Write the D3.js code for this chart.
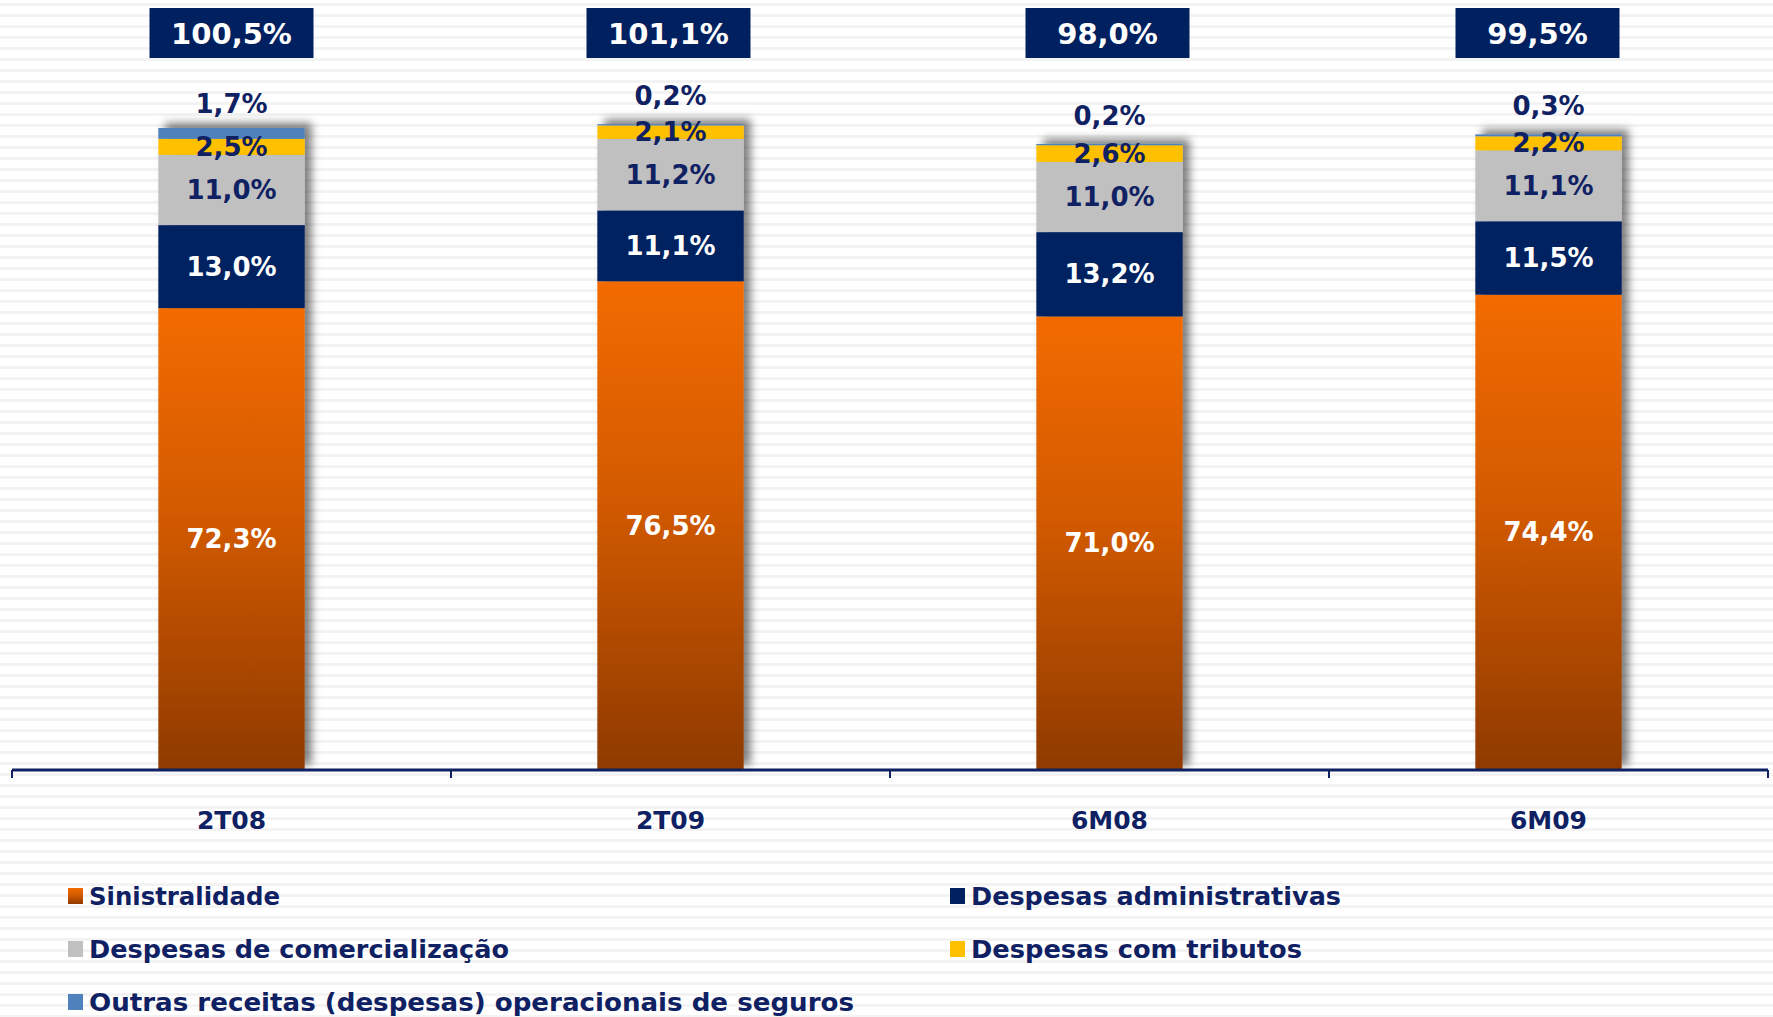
<!DOCTYPE html>
<meta charset="utf-8">
<style>
body { margin: 0; background: #fff; }
svg { display: block; font-family: "DejaVu Sans", Verdana, sans-serif; font-weight: bold; }
.seg-label { font-size: 26px; text-anchor: middle; }
.total-label { font-size: 29px; fill: #fff; text-anchor: middle; }
.cat-label { font-size: 25px; fill: #0f2163; text-anchor: middle; }
.legend text { font-size: 24px; fill: #0f2163; }
</style>
<svg width="1773" height="1017"></svg>
<script src="https://d3js.org/d3.v7.min.js"></script>
<script>

var categories = ["2T08", "2T09", "6M08", "6M09"];
var totals = ["100,5%", "101,1%", "98,0%", "99,5%"];

var series = ["Sinistralidade", "Despesas administrativas", "Despesas de comercialização",
  "Despesas com tributos", "Outras receitas (despesas) operacionais de seguros"];
var sinistralidade = [72.3, 76.5, 71.0, 74.4];
var administrativas = [13.0, 11.1, 13.2, 11.5];
var comercializacao = [11.0, 11.2, 11.0, 11.1];
var tributos = [2.5, 2.1, 2.6, 2.2];
var outras = [1.7, 0.2, 0.2, 0.3];

var values = [sinistralidade, administrativas, comercializacao, tributos, outras];
var colors = ["url(#orangeGrad)", "#002060", "#c0c0c0", "#ffc000", "#4f81bd"];
var labelColors = ["#fff", "#fff", "#0f2163", "#0f2163", "#0f2163"];

var svg = d3.select("svg");
var width = +svg.attr("width");
var height = +svg.attr("height");

var defs = svg.append("defs");

// striped background
var pat = defs.append("pattern")
  .attr("id", "stripes")
  .attr("patternUnits", "userSpaceOnUse")
  .attr("width", 20).attr("height", 11);
pat.append("rect").attr("width", 20).attr("height", 11).attr("fill", "#fff");
pat.append("rect").attr("y", 3).attr("width", 20).attr("height", 3).attr("fill", "#f3f3f3");

var grad = defs.append("linearGradient")
  .attr("id", "orangeGrad")
  .attr("x1", 0).attr("y1", 0).attr("x2", 0).attr("y2", 1);
grad.append("stop").attr("offset", "0%").attr("stop-color", "#f26b00");
grad.append("stop").attr("offset", "45%").attr("stop-color", "#d25a00");
grad.append("stop").attr("offset", "100%").attr("stop-color", "#8f3a00");

var shadow = defs.append("filter")
  .attr("id", "shadow")
  .attr("x", "-20%").attr("y", "-20%").attr("width", "140%").attr("height", "140%");
shadow.append("feDropShadow")
  .attr("dx", 7).attr("dy", -5)
  .attr("stdDeviation", 4)
  .attr("flood-color", "#000")
  .attr("flood-opacity", 0.5);

svg.append("rect").attr("width", width).attr("height", height).attr("fill", "url(#stripes)");

var x = d3.scaleBand()
  .domain(categories)
  .range([12, 1768]);

var y = d3.scaleLinear()
  .domain([0, 100.5])
  .range([770, 128]);

var barW = x.bandwidth() / 3;

// stack the series
var stackData = categories.map(function(c, i) {
  var row = { cat: c };
  series.forEach(function(s, j) { row[s] = values[j][i]; });
  return row;
});
var stacked = d3.stack().keys(series)(stackData);

var bars = svg.append("g").attr("filter", "url(#shadow)");
stacked.forEach(function(layer, j) {
  bars.selectAll(null)
    .data(layer)
    .enter().append("rect")
    .attr("x", function(d) { return x(d.data.cat) + (x.bandwidth() - barW) / 2; })
    .attr("y", function(d) { return y(d[1]); })
    .attr("width", barW)
    .attr("height", function(d) { return y(d[0]) - y(d[1]); })
    .attr("fill", colors[j]);
});

// axis
var axisColor = "#0f2163";
svg.append("line")
  .attr("x1", x.range()[0]).attr("x2", x.range()[1])
  .attr("y1", y(0)).attr("y2", y(0))
  .attr("stroke", axisColor).attr("stroke-width", 3);
var tickPos = categories.map(function(c) { return x(c); }).concat([x.range()[1]]);
svg.selectAll(".tick")
  .data(tickPos)
  .enter().append("line")
  .attr("x1", function(d) { return d; }).attr("x2", function(d) { return d; })
  .attr("y1", y(0)).attr("y2", y(0) + 8)
  .attr("stroke", axisColor).attr("stroke-width", 2);

svg.selectAll(".cat-label")
  .data(categories)
  .enter().append("text")
  .attr("class", "cat-label")
  .attr("x", function(d) { return x(d) + x.bandwidth() / 2; })
  .attr("y", 829)
  .text(function(d) { return d; });

// segment labels
stacked.forEach(function(layer, j) {
  svg.selectAll(null)
    .data(layer)
    .enter().append("text")
    .attr("class", "seg-label")
    .attr("fill", labelColors[j])
    .attr("x", function(d) { return x(d.data.cat) + x.bandwidth() / 2; })
    .attr("y", function(d) {
      var mid = (y(d[0]) + y(d[1])) / 2;
      if (j === series.length - 1) mid -= 29;
      return mid + 9;
    })
    .text(function(d) { return (d[1] - d[0]).toFixed(1).replace(".", ",") + "%"; });
});

// total boxes
var boxShift = [0, -2, -2, -11];
var tot = svg.selectAll(".total")
  .data(categories)
  .enter().append("g")
  .attr("transform", function(d, i) { return "translate(" + (x(d) + x.bandwidth() / 2 + boxShift[i]) + ",0)"; });
tot.append("rect")
  .attr("x", -82).attr("y", 8)
  .attr("width", 164).attr("height", 50)
  .attr("fill", "#002060");
tot.append("text")
  .attr("class", "total-label")
  .attr("y", 44)
  .text(function(d, i) { return totals[i]; });

// legend
var legendPos = [[68, 896], [950, 896], [68, 949], [950, 949], [68, 1002]];
var legendLen = [191, 370, 420, 331, 765];
var legendColors = ["url(#orangeGrad)", "#002060", "#c0c0c0", "#ffc000", "#4f81bd"];
var lg = svg.append("g").attr("class", "legend")
  .selectAll("g")
  .data(series)
  .enter().append("g")
  .attr("transform", function(d, i) { return "translate(" + legendPos[i][0] + "," + legendPos[i][1] + ")"; });
lg.append("rect")
  .attr("x", 0).attr("y", -8)
  .attr("width", 15).attr("height", 16)
  .attr("fill", function(d, i) { return legendColors[i]; });
lg.append("text")
  .attr("x", 21)
  .attr("y", 9)
  .attr("textLength", function(d, i) { return legendLen[i]; })
  .attr("lengthAdjust", "spacingAndGlyphs")
  .text(function(d) { return d; });

</script>
